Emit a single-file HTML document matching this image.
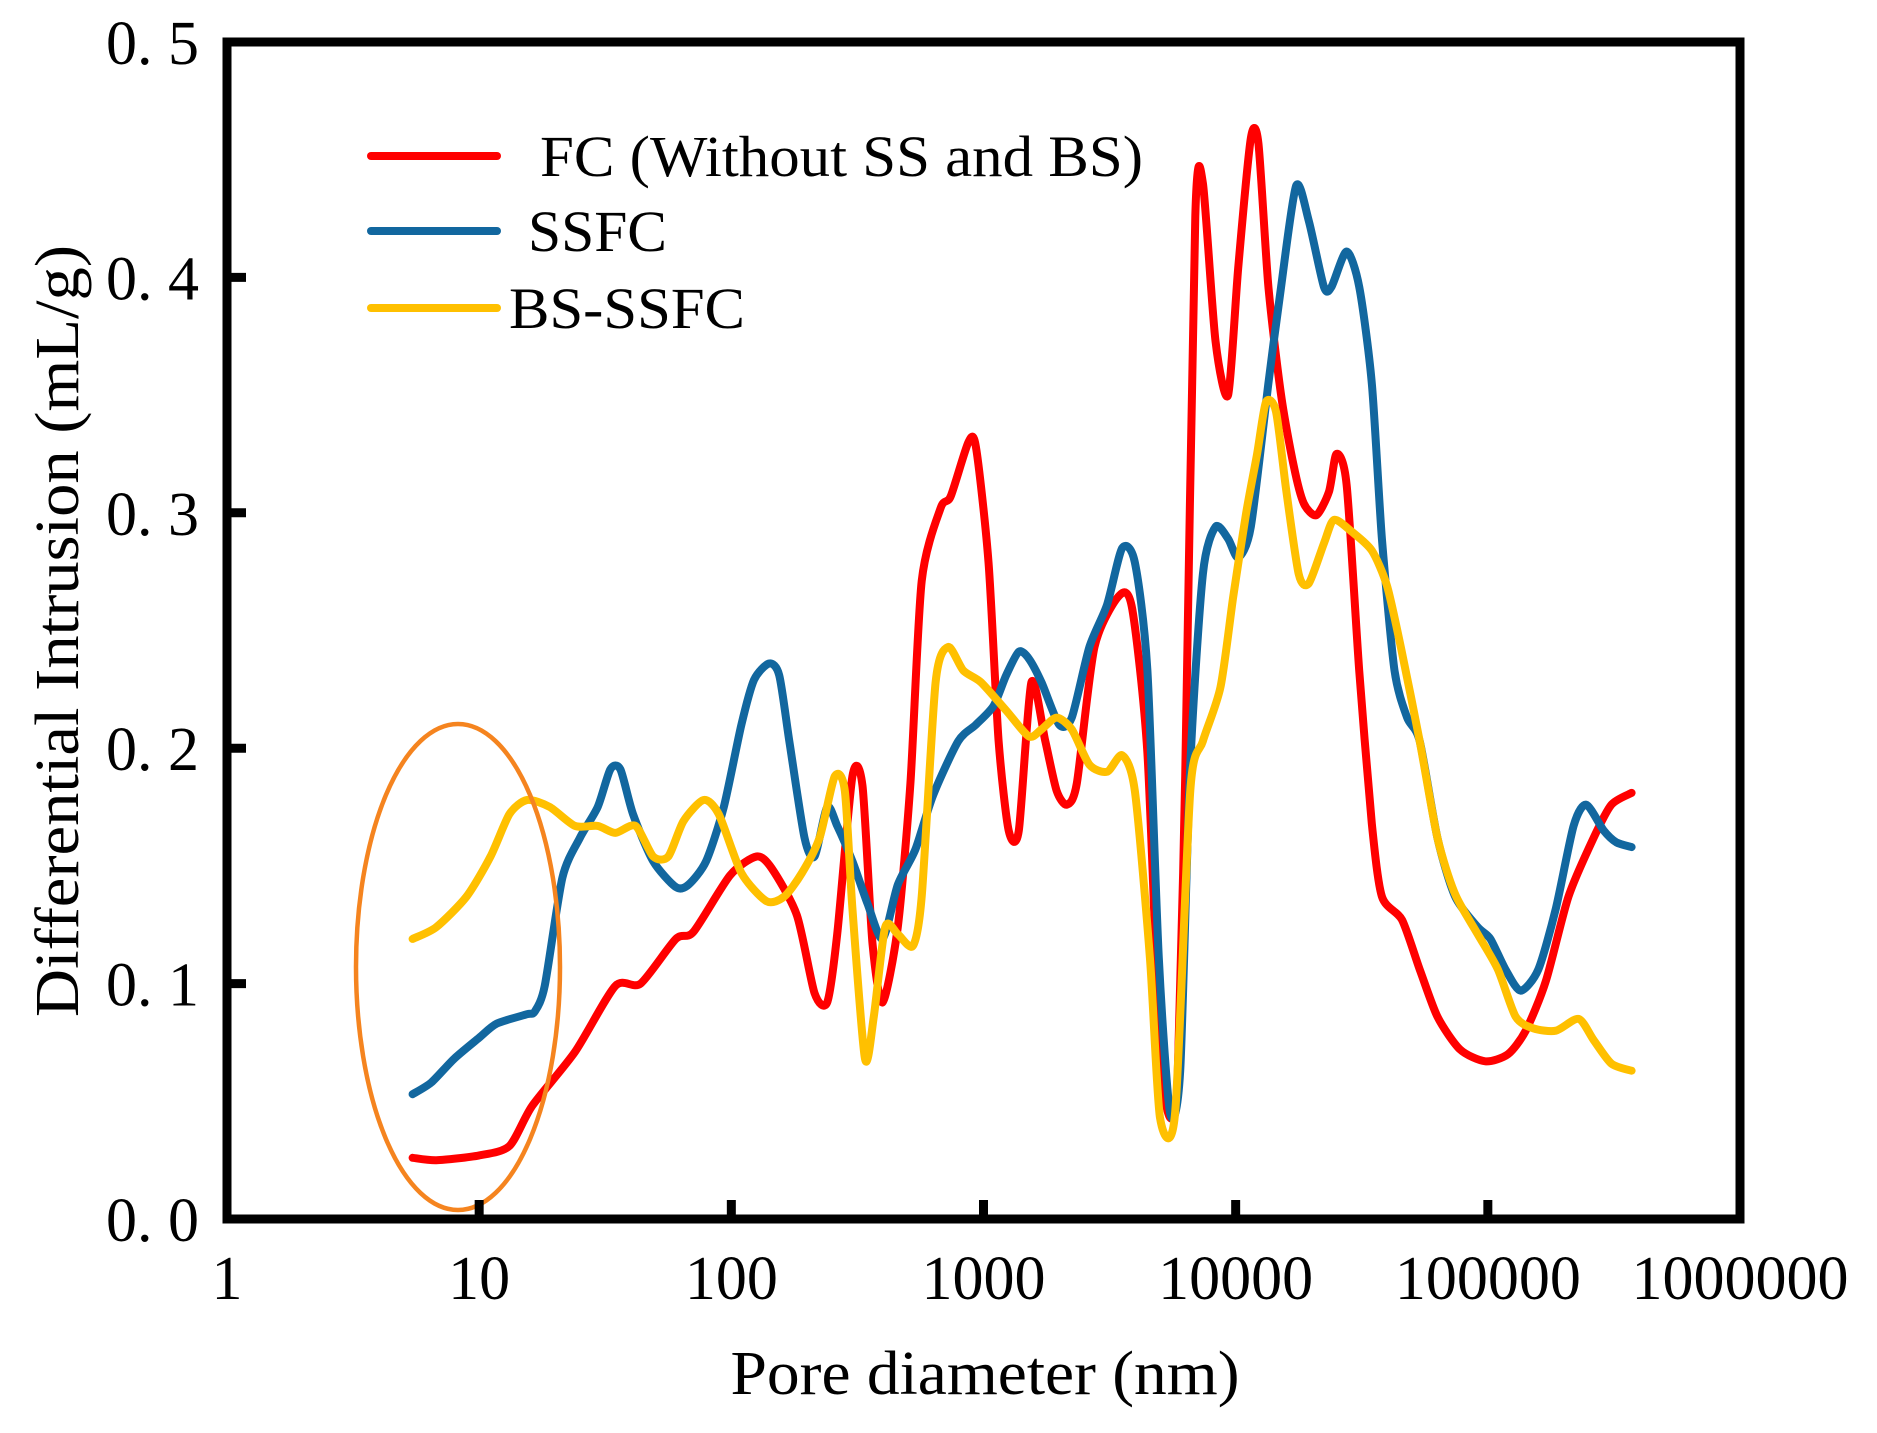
<!DOCTYPE html>
<html><head><meta charset="utf-8">
<style>html,body{margin:0;padding:0;background:#fff}svg{display:block}text{font-family:"Liberation Serif",serif;fill:#000}</style>
</head><body>
<svg id="chart" width="1877" height="1433" viewBox="0 0 1877 1433" xmlns="http://www.w3.org/2000/svg">
<g id="marks"></g>
<g id="axes"></g>
</svg>
<script>
const xTickLabels = ["1","10","100","1000","10000","100000","1000000"];
const yTickLabels = ["0. 0","0. 1","0. 2","0. 3","0. 4","0. 5"];
const yTickValues = [0,0.1,0.2,0.3,0.4,0.5];
// x as log10(pore diameter, nm)
const fcLogX = [0.736,0.83,1.0,1.12,1.21,1.38,1.54,1.64,1.78,1.85,1.995,2.1,2.16,2.26,2.33,2.38,2.42,2.48,2.52,2.56,2.6,2.66,2.71,2.755,2.83,2.87,2.94,2.97,3.02,3.06,3.1,3.14,3.19,3.245,3.29,3.33,3.37,3.44,3.54,3.59,3.65,3.7,3.74,3.77,3.8,3.84,3.87,3.92,3.97,4.01,4.06,4.09,4.13,4.18,4.23,4.27,4.32,4.37,4.40,4.44,4.49,4.54,4.58,4.66,4.73,4.80,4.89,4.99,5.08,5.15,5.23,5.32,5.42,5.49,5.57];
const fcY = [0.026,0.025,0.027,0.031,0.048,0.071,0.099,0.100,0.119,0.122,0.146,0.154,0.149,0.129,0.096,0.092,0.121,0.188,0.184,0.117,0.092,0.124,0.185,0.271,0.302,0.307,0.330,0.328,0.279,0.203,0.165,0.165,0.228,0.203,0.182,0.176,0.185,0.243,0.265,0.259,0.198,0.071,0.043,0.061,0.188,0.426,0.44,0.373,0.350,0.404,0.459,0.457,0.396,0.350,0.320,0.304,0.299,0.309,0.325,0.312,0.233,0.168,0.137,0.127,0.106,0.086,0.072,0.067,0.070,0.080,0.101,0.137,0.162,0.176,0.181];
const ssfcLogX = [0.736,0.81,0.90,1.0,1.07,1.19,1.22,1.26,1.33,1.40,1.47,1.52,1.56,1.61,1.69,1.78,1.83,1.90,1.97,2.04,2.09,2.15,2.19,2.23,2.29,2.33,2.38,2.42,2.48,2.54,2.60,2.66,2.73,2.80,2.90,2.97,3.04,3.09,3.14,3.18,3.23,3.30,3.35,3.42,3.49,3.55,3.60,3.65,3.695,3.74,3.78,3.82,3.87,3.92,3.97,4.01,4.06,4.13,4.18,4.24,4.29,4.35,4.38,4.44,4.49,4.54,4.58,4.63,4.68,4.73,4.80,4.87,4.96,5.01,5.07,5.13,5.20,5.27,5.34,5.39,5.46,5.51,5.57];
const ssfcY = [0.053,0.058,0.068,0.077,0.083,0.087,0.088,0.099,0.145,0.162,0.175,0.191,0.191,0.172,0.152,0.141,0.142,0.152,0.175,0.210,0.229,0.236,0.231,0.203,0.162,0.154,0.175,0.167,0.152,0.134,0.119,0.142,0.157,0.180,0.203,0.210,0.218,0.231,0.241,0.238,0.228,0.210,0.213,0.243,0.261,0.285,0.279,0.233,0.111,0.045,0.063,0.193,0.274,0.294,0.289,0.281,0.294,0.355,0.396,0.439,0.424,0.396,0.396,0.411,0.396,0.355,0.289,0.233,0.213,0.203,0.162,0.137,0.124,0.119,0.106,0.097,0.106,0.132,0.167,0.176,0.165,0.160,0.158];
const bsLogX = [0.736,0.83,0.95,1.045,1.12,1.19,1.28,1.38,1.47,1.54,1.62,1.69,1.75,1.81,1.89,1.95,2.04,2.14,2.21,2.28,2.35,2.41,2.45,2.48,2.53,2.565,2.61,2.66,2.72,2.755,2.81,2.86,2.92,2.99,3.09,3.18,3.23,3.29,3.35,3.42,3.49,3.55,3.60,3.66,3.70,3.76,3.82,3.87,3.94,3.99,4.04,4.085,4.12,4.16,4.20,4.25,4.29,4.35,4.39,4.46,4.54,4.60,4.655,4.73,4.80,4.87,4.96,5.04,5.11,5.18,5.27,5.36,5.42,5.49,5.57];
const bsY = [0.119,0.124,0.137,0.154,0.172,0.178,0.175,0.167,0.167,0.164,0.167,0.154,0.154,0.169,0.178,0.172,0.147,0.135,0.137,0.147,0.162,0.188,0.182,0.132,0.068,0.086,0.124,0.121,0.116,0.137,0.228,0.243,0.233,0.228,0.216,0.205,0.208,0.213,0.208,0.193,0.190,0.197,0.182,0.111,0.043,0.045,0.182,0.203,0.226,0.264,0.299,0.325,0.347,0.343,0.310,0.274,0.270,0.287,0.297,0.292,0.284,0.269,0.243,0.203,0.162,0.138,0.121,0.106,0.086,0.081,0.080,0.085,0.076,0.066,0.063];

const L=227,R=1740,T=42,B=1219;
const xScale = lx => L + lx*(R-L)/6;
const yScale = v => B - v*(B-T)/0.5;
const NS="http://www.w3.org/2000/svg";
const marks=document.getElementById('marks'), axes=document.getElementById('axes');
function mk(tag, parent, attrs){const e=document.createElementNS(NS,tag);for(const k in attrs)e.setAttribute(k,attrs[k]);parent.appendChild(e);return e;}
function smooth(xs,ys){
  const p=xs.map((x,i)=>[xScale(x),yScale(ys[i])]);
  let d=`M${p[0][0].toFixed(1)},${p[0][1].toFixed(1)}`;
  const k=8;
  for(let i=0;i<p.length-1;i++){
    const p0=p[i-1]||p[i],p1=p[i],p2=p[i+1],p3=p[i+2]||p2;
    const c1=[p1[0]+(p2[0]-p0[0])/k,p1[1]+(p2[1]-p0[1])/k];
    const c2=[p2[0]-(p3[0]-p1[0])/k,p2[1]-(p3[1]-p1[1])/k];
    d+=` C${c1[0].toFixed(1)},${c1[1].toFixed(1)} ${c2[0].toFixed(1)},${c2[1].toFixed(1)} ${p2[0].toFixed(1)},${p2[1].toFixed(1)}`;
  }
  return d;
}
[[fcLogX,fcY,'#ff0000'],[ssfcLogX,ssfcY,'#12679f'],[bsLogX,bsY,'#ffc000']].forEach((s,i)=>{
  const path=mk('path',marks,{d:smooth(s[0],s[1]),fill:'none',stroke:s[2],'stroke-width':8,'stroke-linejoin':'round','stroke-linecap':'round'});
  
  
});
const ell=mk('ellipse',marks,{cx:458,cy:967,rx:102,ry:243,fill:'none',stroke:'#f5841f','stroke-width':4.5});


const frame=mk('rect',axes,{x:L,y:T,width:R-L,height:B-T,fill:'none',stroke:'#000','stroke-width':9});


xTickLabels.forEach((lab,i)=>{
  const x=xScale(i);
  if(i>0&&i<6){const t=mk('line',axes,{x1:x,x2:x,y1:B,y2:B-19,stroke:'#000','stroke-width':9});
  
  }
  const tx=mk('text',axes,{x:x,y:1299,'font-size':62,'text-anchor':'middle'});tx.textContent=lab;
  
  
});
yTickValues.forEach((v,i)=>{
  const y=yScale(v);
  if(i>0&&i<5){const t=mk('line',axes,{x1:L,x2:L+19,y1:y,y2:y,stroke:'#000','stroke-width':9});
  
  }
  const tx=mk('text',axes,{x:199,y:y+22,'font-size':62,'text-anchor':'end'});tx.textContent=yTickLabels[i];
  
  
});
const xt=mk('text',axes,{x:985,y:1394,'font-size':62,'text-anchor':'middle',textLength:509,lengthAdjust:'spacingAndGlyphs'});xt.textContent='Pore diameter (nm)';


const yt=mk('text',axes,{x:0,y:0,'font-size':62,'text-anchor':'middle',textLength:772,lengthAdjust:'spacingAndGlyphs',transform:'translate(78,631) rotate(-90)'});yt.textContent='Differential Intrusion (mL/g)';


const leg=[['FC (Without SS and BS)','#ff0000',156,540,603,'legend-fc'],['SSFC','#12679f',231,528,139,'legend-ssfc'],['BS-SSFC','#ffc000',308,509,236,'legend-bs-ssfc']];
leg.forEach(l=>{
  const g=mk('g',axes,{});
  
  
  mk('line',g,{x1:371,x2:497,y1:l[2],y2:l[2],stroke:l[1],'stroke-width':8,'stroke-linecap':'round'});
  const t=mk('text',g,{x:l[3],y:l[2]+20,'font-size':58,textLength:l[4],lengthAdjust:'spacingAndGlyphs'});t.textContent=l[0];
});
</script>
</body></html>
